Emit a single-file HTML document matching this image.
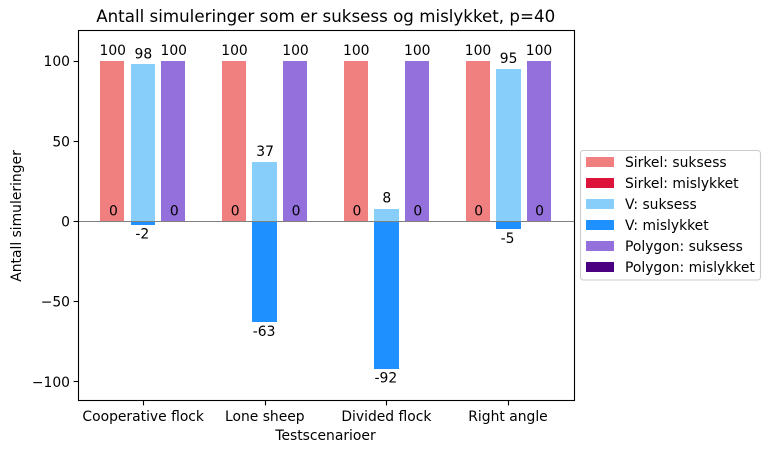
<!DOCTYPE html>
<html lang="no">
<head>
<meta charset="utf-8">
<title>Antall simuleringer</title>
<style>
html,body{margin:0;padding:0;background:#fff;width:770px;height:453px;overflow:hidden}
svg{display:block}
text{font-family:"DejaVu Sans","Liberation Sans",sans-serif;font-size:13.89px;fill:#000}
</style>
</head>
<body>
<svg id="chart" xmlns="http://www.w3.org/2000/svg" width="770" height="453" viewBox="0 0 770 453"></svg>
<script>
const categories = ["Cooperative flock", "Lone sheep", "Divided flock", "Right angle"];
const sirkelSuksess = [100, 100, 100, 100];
const sirkelMislykket = [0, 0, 0, 0];
const vSuksess = [98, 37, 8, 95];
const vMislykket = [-2, -63, -92, -5];
const polygonSuksess = [100, 100, 100, 100];
const polygonMislykket = [0, 0, 0, 0];
const yTickValues = [100, 50, 0, -50, -100];
const legendLabels = ["Sirkel: suksess", "Sirkel: mislykket", "V: suksess", "V: mislykket", "Polygon: suksess", "Polygon: mislykket"];

const NS = "http://www.w3.org/2000/svg";
const svg = document.getElementById("chart");
const plot = {left: 78.5, right: 574.5, top: 30.5, bottom: 400.5};
const xScale = function (v) { return 143.4 + v * 121.75; };
const tickX = function (i) { return 143.6 + i * 121.6; };
const yScale = function (v) { return 221.4 - v * 1.603; };
const snap = function (p) { return Math.floor(p) + 0.5; };
const seriesDefs = [
  {values: sirkelSuksess, offset: -0.255, width: 0.198, color: "#f08080", key: "sirkel-suksess"},
  {values: sirkelMislykket, offset: -0.255, width: 0.198, color: "#dc143c", key: "sirkel-mislykket"},
  {values: vSuksess, offset: -0.0037, width: 0.203, color: "#87cefa", key: "v-suksess"},
  {values: vMislykket, offset: -0.0037, width: 0.203, color: "#1e90ff", key: "v-mislykket"},
  {values: polygonSuksess, offset: 0.246, width: 0.198, color: "#9370db", key: "polygon-suksess"},
  {values: polygonMislykket, offset: 0.246, width: 0.198, color: "#4b0082", key: "polygon-mislykket"}
];

function make(tag, attrs, text) {
  const el = document.createElementNS(NS, tag);
  for (const k in attrs) el.setAttribute(k, attrs[k]);
  if (text !== undefined) el.textContent = text;
  svg.appendChild(el);
  return el;
}

let el;

/* bars */
seriesDefs.forEach(function (s) {
  s.values.forEach(function (v, i) {
    const x0 = Math.round(xScale(i + s.offset - s.width / 2));
    const x1 = Math.round(xScale(i + s.offset + s.width / 2));
    const y0 = Math.round(yScale(Math.max(v, 0)));
    const y1 = Math.round(yScale(Math.min(v, 0)));
    el = make("rect", {x: x0, y: y0, width: x1 - x0, height: y1 - y0, fill: s.color, "shape-rendering": "crispEdges"});
    
    
  });
});

/* zero line */
el = make("line", {x1: plot.left, x2: plot.right, y1: snap(yScale(0)), y2: snap(yScale(0)), stroke: "#808080", "stroke-width": 1.1});



/* bar value labels */
seriesDefs.forEach(function (s) {
  s.values.forEach(function (v, i) {
    const nudge = v < 0 ? -0.6 : (v === 0 ? 1 : 0.4);
    const cx = xScale(i + s.offset) + nudge;
    const by = v < 0 ? yScale(v) + 13.8 : yScale(v) - 6;
    el = make("text", {x: cx, y: by, "text-anchor": "middle"}, String(v));
    
    
  });
});

/* axes frame */
el = make("rect", {x: plot.left, y: plot.top, width: plot.right - plot.left, height: plot.bottom - plot.top, fill: "none", stroke: "#000", "stroke-width": 1.1});



/* y ticks */
yTickValues.forEach(function (v) {
  const y = yScale(v);
  el = make("line", {x1: plot.left - 4.9, x2: plot.left, y1: snap(y), y2: snap(y), stroke: "#000", "stroke-width": 1.1});
  
  
  el = make("text", {x: plot.left - 8.5, y: y + 5.1, "text-anchor": "end"}, String(v).replace("-", "\u2212"));
  
  
});

/* x ticks */
categories.forEach(function (c, i) {
  const x = snap(tickX(i));
  el = make("line", {x1: x, x2: x, y1: plot.bottom, y2: plot.bottom + 4.9, stroke: "#000", "stroke-width": 1.1});
  
  
  el = make("text", {x: tickX(i) - 0.4, y: 421, "text-anchor": "middle"}, c);
  
  
});

/* titles */
el = make("text", {x: 325.7, y: 22, "text-anchor": "middle", textLength: 459, lengthAdjust: "spacing", style: "font-size:16.67px"}, "Antall simuleringer som er suksess og mislykket, p=40");


el = make("text", {x: 325.5, y: 440, "text-anchor": "middle"}, "Testscenarioer");


el = make("text", {x: 0, y: 0, "text-anchor": "middle", transform: "translate(21 216) rotate(-90)"}, "Antall simuleringer");



/* legend */
el = make("rect", {x: 580.5, y: 150.5, width: 180, height: 129.5, rx: 3, ry: 3, fill: "#fff", "fill-opacity": 0.8, stroke: "#ccc", "stroke-width": 1.1});


legendLabels.forEach(function (label, i) {
  const y = 157 + i * 21;
  el = make("rect", {x: 586, y: y, width: 28, height: 10, fill: seriesDefs[i].color, "shape-rendering": "crispEdges"});
  
  
  el = make("text", {x: 625, y: y + 10}, label);
  
  
});
</script>
</body>
</html>
